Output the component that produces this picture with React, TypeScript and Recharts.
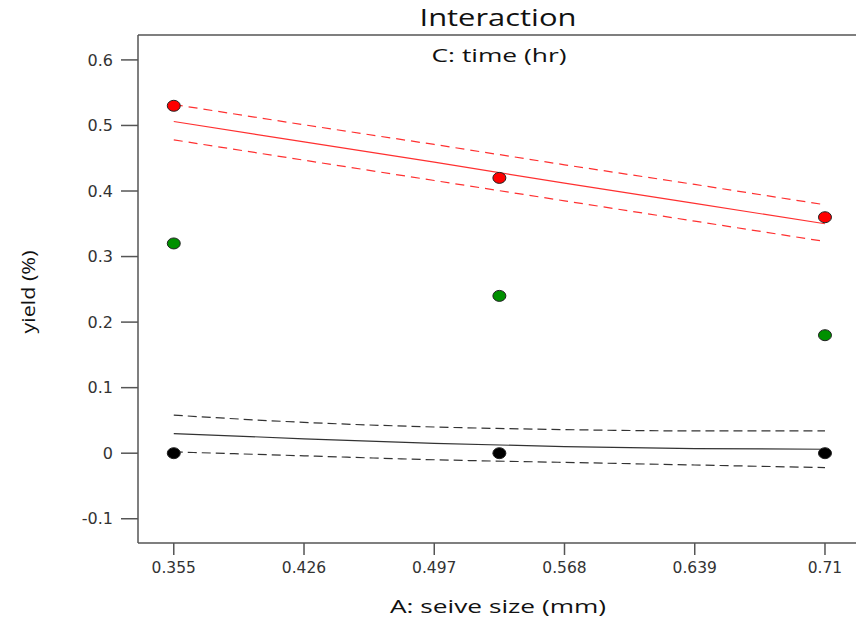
import React from 'react';
import {
  ComposedChart, Line, Scatter, XAxis, YAxis, ReferenceLine,
} from 'recharts';

// design points (A: seive size) and observed yields
const SIEVE = [0.355, 0.5325, 0.71];
const YIELD_RED = [0.53, 0.42, 0.36];
const YIELD_GREEN = [0.32, 0.24, 0.18];
const YIELD_BLACK = [0, 0, 0];

// model prediction lines with their confidence bands
const FIT_X = [0.355, 0.426, 0.497, 0.568, 0.639, 0.71];
const RED_FIT = [0.506, 0.475, 0.444, 0.412, 0.381, 0.35];
const RED_UPPER = [0.532, 0.501, 0.471, 0.44, 0.41, 0.379];
const RED_LOWER = [0.478, 0.447, 0.416, 0.385, 0.354, 0.323];
const BLACK_FIT = [0.03, 0.022, 0.015, 0.01, 0.007, 0.006];
const BLACK_UPPER = [0.058, 0.047, 0.04, 0.036, 0.034, 0.034];
const BLACK_LOWER = [0.002, -0.004, -0.01, -0.014, -0.018, -0.022];

const X_TICKS = [0.355, 0.426, 0.497, 0.568, 0.639, 0.71];
const Y_TICKS = [-0.1, 0, 0.1, 0.2, 0.3, 0.4, 0.5, 0.6];
const X_DOMAIN = [0.3355, 0.728];
const Y_DOMAIN = [-0.137, 0.638];

const toPoints = (xs: number[], ys: number[]) => xs.map((x, i) => ({ x, y: ys[i] }));

const dot = (fill: string) => (p: any) => (
  <ellipse cx={p.cx} cy={p.cy} rx={6.5} ry={5.5} fill={fill} stroke="#222" strokeWidth={1} />
);

const FRAME = '#555';
const FONT = '"Open Sans", "Noto Sans", sans-serif';
const TICK_FONT = '"DejaVu Sans", sans-serif';

export default function App() {
  return (
    <div style={{ width: 856, height: 620, background: '#fff' }}>
      <style>{'body{margin:0;}'}</style>
      <ComposedChart width={856} height={620} margin={{ top: 35, right: -2, bottom: 0, left: 0 }}>
        <XAxis
          type="number"
          dataKey="x"
          domain={X_DOMAIN}
          ticks={X_TICKS}
          allowDataOverflow
          height={77}
          tickSize={12}
          tickMargin={7}
          axisLine={{ stroke: FRAME, strokeWidth: 1.5 }}
          tickLine={{ stroke: FRAME, strokeWidth: 1.5 }}
          tick={{ fill: '#333', fontSize: 15.5, fontFamily: TICK_FONT }}
          tickFormatter={(v) => String(v)}
        />
        <YAxis
          type="number"
          domain={Y_DOMAIN}
          ticks={Y_TICKS}
          allowDataOverflow
          width={138}
          tickSize={17}
          tickMargin={8}
          axisLine={{ stroke: FRAME, strokeWidth: 1.5 }}
          tickLine={{ stroke: FRAME, strokeWidth: 1.5 }}
          tick={{ fill: '#333', fontSize: 16, fontFamily: TICK_FONT }}
          tickFormatter={(v) => String(Math.round(v * 10) / 10)}
        />
        <ReferenceLine y={Y_DOMAIN[1]} stroke={FRAME} strokeWidth={1.5} ifOverflow="visible" />

        <Line data={toPoints(FIT_X, RED_UPPER)} dataKey="y" type="linear" stroke="#ff3030" strokeWidth={1.2} strokeDasharray="9 6" dot={false} isAnimationActive={false} />
        <Line data={toPoints(FIT_X, RED_FIT)} dataKey="y" type="linear" stroke="#ff3030" strokeWidth={1.2} dot={false} isAnimationActive={false} />
        <Line data={toPoints(FIT_X, RED_LOWER)} dataKey="y" type="linear" stroke="#ff3030" strokeWidth={1.2} strokeDasharray="9 6" dot={false} isAnimationActive={false} />
        <Line data={toPoints(FIT_X, BLACK_UPPER)} dataKey="y" type="monotone" stroke="#333" strokeWidth={1.2} strokeDasharray="9 5" dot={false} isAnimationActive={false} />
        <Line data={toPoints(FIT_X, BLACK_FIT)} dataKey="y" type="monotone" stroke="#333" strokeWidth={1.2} dot={false} isAnimationActive={false} />
        <Line data={toPoints(FIT_X, BLACK_LOWER)} dataKey="y" type="monotone" stroke="#333" strokeWidth={1.2} strokeDasharray="9 5" dot={false} isAnimationActive={false} />

        <Scatter data={toPoints(SIEVE, YIELD_RED)} dataKey="y" fill="#ff0000" shape={dot('#ff0000')} isAnimationActive={false} />
        <Scatter data={toPoints(SIEVE, YIELD_GREEN)} dataKey="y" fill="#009000" shape={dot('#009000')} isAnimationActive={false} />
        <Scatter data={toPoints(SIEVE, YIELD_BLACK)} dataKey="y" fill="#000" shape={dot('#000')} isAnimationActive={false} />

        <text x={498} y={26} textAnchor="middle" fontSize={23} fontFamily={FONT} fill="#111"
          textLength={157} lengthAdjust="spacingAndGlyphs">Interaction</text>
        <text x={499} y={62} textAnchor="middle" fontSize={19} fontFamily={FONT} fill="#111"
          textLength={135} lengthAdjust="spacingAndGlyphs">C: time (hr)</text>
        <text x={498} y={613} textAnchor="middle" fontSize={19} fontFamily={FONT} fill="#111"
          textLength={216} lengthAdjust="spacingAndGlyphs">A: seive size (mm)</text>
        <text
          x={28}
          y={292}
          textAnchor="middle"
          dominantBaseline="central"
          transform="rotate(-90 28 292)"
          fontSize={19}
          fontFamily={FONT}
          fill="#111"
          textLength={83}
          lengthAdjust="spacingAndGlyphs"
        >
          yield (%)
        </text>
      </ComposedChart>
    </div>
  );
}
